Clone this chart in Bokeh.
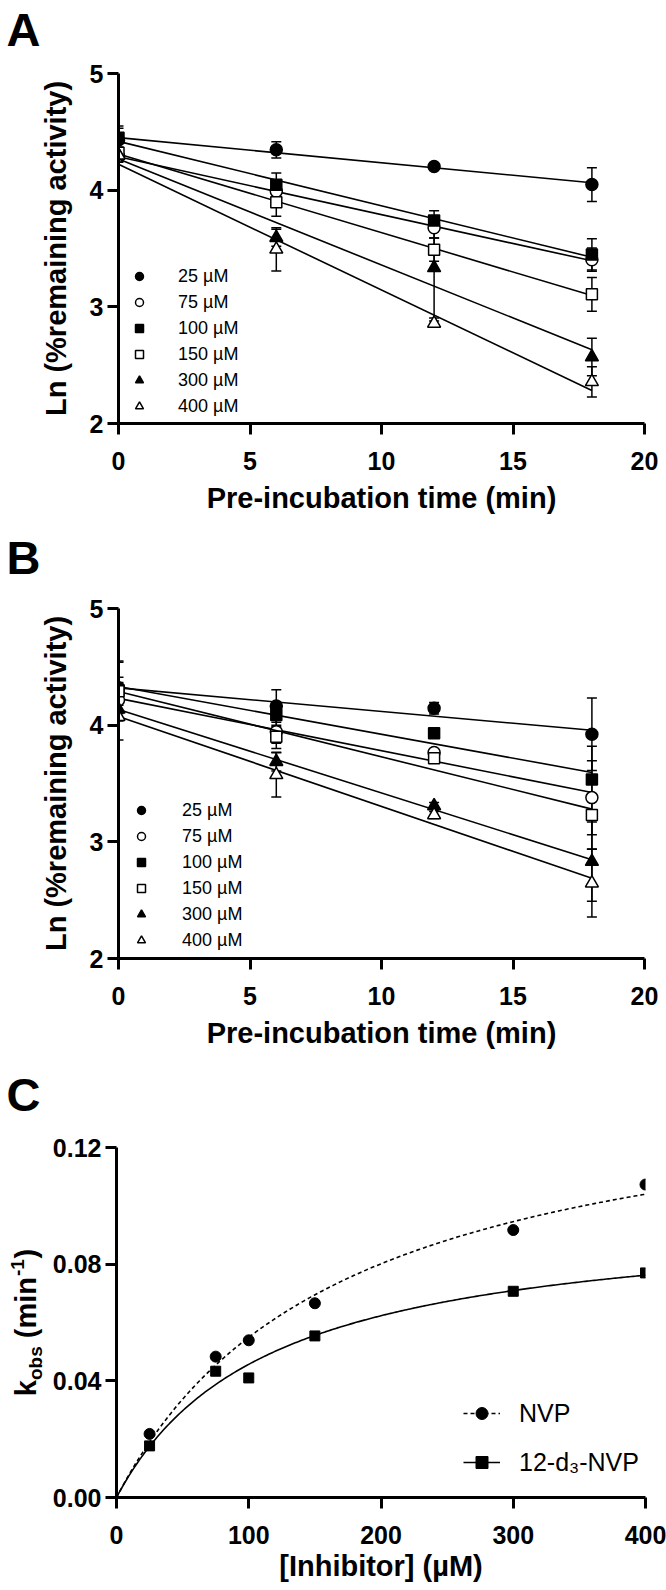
import numpy as np
from bokeh.plotting import figure
from bokeh.layouts import column, row
from bokeh.models import (ColumnDataSource, Whisker, TeeHead, Legend, LegendItem,
                          Label, FixedTicker, NumeralTickFormatter, Range1d)
from bokeh.embed import file_html
from bokeh.resources import INLINE

FONT = "Liberation Sans"

# ------------------------------------------------------------------ data
times = [0, 6, 12, 18]
conc_labels = ["25 µM", "75 µM", "100 µM", "150 µM", "300 µM", "400 µM"]

# Panel A: Ln(% remaining activity), mean and SD
a_25 = [4.43, 4.346, 4.202, 4.048]
a_75 = [4.29, 3.99, 3.677, 3.404]
a_100 = [4.45, 4.047, 3.74, 3.449]
a_150 = [4.32, 3.897, 3.49, 3.107]
a_300 = [4.30, 3.593, 3.335, 2.57]
a_400 = [4.30, 3.493, 2.858, 2.357]
sd_a_25 = [0.10, 0.07, 0.02, 0.145]
sd_a_75 = [0.05, 0.08, 0.087, 0.10]
sd_a_100 = [0.10, 0.10, 0.084, 0.134]
sd_a_150 = [0.05, 0.12, 0.10, 0.145]
sd_a_300 = [0.05, 0.073, 0.43, 0.16]
sd_a_400 = [0.05, 0.185, 0.02, 0.13]

# Panel B
b_25 = [4.32, 4.164, 4.145, 3.922]
b_75 = [4.216, 3.944, 3.765, 3.379]
b_100 = [4.30, 4.087, 3.931, 3.534]
b_150 = [4.29, 3.90, 3.717, 3.231]
b_300 = [4.136, 3.687, 3.308, 2.831]
b_400 = [4.073, 3.574, 3.231, 2.646]
sd_b_25 = [0.22, 0.14, 0.05, 0.31]
sd_b_75 = [0.15, 0.10, 0.03, 0.44]
sd_b_100 = [0.25, 0.10, 0.03, 0.16]
sd_b_150 = [0.12, 0.10, 0.03, 0.17]
sd_b_300 = [0.10, 0.08, 0.03, 0.34]
sd_b_400 = [0.20, 0.19, 0.03, 0.29]

# Panel C: kobs vs inhibitor concentration
inhibitor = [25, 75, 100, 150, 300, 400]
kobs_nvp = [0.0218, 0.0483, 0.0539, 0.0666, 0.0917, 0.1073]
kobs_d3 = [0.0177, 0.0433, 0.0410, 0.0554, 0.0707, 0.0770]
c_labels = ["NVP", "12-d\u2083-NVP"]

x_ticks_time = [0, 5, 10, 15, 20]
y_ticks_ln = [2, 3, 4, 5]
x_ticks_inh = [0, 100, 200, 300, 400]
y_ticks_k = [0.0, 0.04, 0.08, 0.12]

# ------------------------------------------------------------------ style
MARKERS = [("circle", "black"), ("circle", "white"), ("square", "black"),
           ("square", "white"), ("triangle", "black"), ("triangle", "white")]
MSIZE = {"circle": 12, "square": 11, "triangle": 13}
W = 666
LETTER_SIZE = "47px"


def unalign(fig):
    if "frame_align" in fig.properties():
        fig.frame_align = False


def style_axes(p, xticks, yticks):
    p.xaxis.ticker = FixedTicker(ticks=xticks)
    p.yaxis.ticker = FixedTicker(ticks=yticks)
    for ax in (p.xaxis, p.yaxis):
        ax.axis_line_width = 3
        ax.axis_line_color = "black"
        ax.major_tick_line_width = 3
        ax.major_tick_line_color = "black"
        ax.major_tick_out = 11
        ax.major_tick_in = 0
        ax.minor_tick_out = 0
        ax.minor_tick_in = 0
        ax.major_label_text_font = FONT
        ax.major_label_text_font_style = "bold"
        ax.major_label_text_font_size = "25px"
        ax.major_label_text_color = "black"
        ax.axis_label_text_font = FONT
        ax.axis_label_text_font_style = "bold"
        ax.axis_label_text_font_size = "29px"
        ax.axis_label_text_color = "black"
    p.xaxis.major_label_standoff = 17
    p.yaxis.major_label_standoff = 4
    p.xgrid.visible = False
    p.ygrid.visible = False
    p.outline_line_color = None
    unalign(p)


def text_strip(width, height):
    s = figure(width=width, height=height, x_range=Range1d(0, width), y_range=Range1d(0, height),
               x_axis_type=None, y_axis_type=None, output_backend="svg", toolbar_location=None,
               title=None, min_border=0, min_border_left=0, min_border_right=0,
               min_border_top=0, min_border_bottom=0)
    s.title_location = None
    s.outline_line_color = None
    s.xgrid.visible = False
    s.ygrid.visible = False
    unalign(s)
    return s


def letter_header(letter, height, center_from_top):
    h = text_strip(W, height)
    h.add_layout(Label(x=6, y=height - center_from_top, text=letter, text_font=FONT,
                       text_font_style="bold", text_font_size=LETTER_SIZE,
                       text_baseline="middle", text_align="left", text_color="black"))
    return h


def time_panel(means, sds, height, top, bottom, leg_loc, leg_standoff):
    p = figure(width=W, height=height, x_range=Range1d(0, 20), y_range=Range1d(2, 5),
               output_backend="svg", toolbar_location=None,
               min_border_left=118, min_border_right=22,
               min_border_top=top, min_border_bottom=bottom)
    style_axes(p, x_ticks_time, y_ticks_ln)
    p.xaxis.axis_label = "Pre-incubation time (min)"
    p.yaxis.axis_label = "Ln (%remaining activity)"
    p.xaxis.axis_label_standoff = 9
    p.yaxis.axis_label_standoff = 15

    items = []
    for i, (m, sd) in enumerate(zip(means, sds)):
        slope, icpt = np.polyfit(times, m, 1)
        xs = [times[0], times[-1]]
        p.line(xs, [icpt + slope * x for x in xs], line_color="black", line_width=1.6)
        src = ColumnDataSource(dict(x=times, y=m,
                                    upper=list(np.add(m, sd)), lower=list(np.subtract(m, sd))))
        p.add_layout(Whisker(source=src, base="x", upper="upper", lower="lower",
                             line_color="black", line_width=1.5,
                             upper_head=TeeHead(size=10, line_width=1.5, line_color="black"),
                             lower_head=TeeHead(size=10, line_width=1.5, line_color="black")))
        mk, fill = MARKERS[i]
        r = p.scatter("x", "y", source=src, marker=mk, size=MSIZE[mk],
                      fill_color=fill, line_color="black", line_width=1.5)
        items.append(LegendItem(label=conc_labels[i], renderers=[r]))

    leg = Legend(items=items, location=leg_loc, padding=0, margin=0, spacing=0,
                 glyph_width=20, glyph_height=26, label_height=26,
                 label_standoff=leg_standoff, label_text_font=FONT,
                 label_text_font_size="18px", label_text_color="black",
                 border_line_color=None, background_fill_alpha=0)
    p.add_layout(leg)
    return p


# page layout (px from top): header A 0-57, A 57-525, header B 525-590, B 590-1062, C 1062-1588
hdrA = letter_header("A", 57, 28.5)
pA = time_panel([a_25, a_75, a_100, a_150, a_300, a_400],
                [sd_a_25, sd_a_75, sd_a_100, sd_a_150, sd_a_300, sd_a_400],
                height=468, top=16, bottom=102, leg_loc=(11, 4), leg_standoff=29)
hdrB = letter_header("B", 65, 32)
pB = time_panel([b_25, b_75, b_100, b_150, b_300, b_400],
                [sd_b_25, sd_b_75, sd_b_100, sd_b_150, sd_b_300, sd_b_400],
                height=472, top=18, bottom=104, leg_loc=(13, 5), leg_standoff=31)

# ------------------------------------------------------------------ panel C
C_H = 526
STRIP_W = 46
pC = figure(width=W - STRIP_W, height=C_H, x_range=Range1d(0, 400), y_range=Range1d(0, 0.12),
            output_backend="svg", toolbar_location=None,
            min_border_left=70, min_border_right=21, min_border_top=85, min_border_bottom=91)
style_axes(pC, x_ticks_inh, y_ticks_k)
pC.yaxis.formatter = NumeralTickFormatter(format="0.00")
pC.xaxis.axis_label = "[Inhibitor] (µM)"
pC.xaxis.axis_label_standoff = 3


def hyperbolic_fit(x, y):
    x = np.asarray(x, float)
    y = np.asarray(y, float)
    best = None
    for K in np.linspace(1, 1500, 6000):
        f = x / (K + x)
        k = float(np.dot(y, f) / np.dot(f, f))
        sse = float(np.sum((y - k * f) ** 2))
        if best is None or sse < best[0]:
            best = (sse, k, K)
    return best[1], best[2]


xc = np.linspace(0, 400, 300)
renderers = []
for ys, mk, dash in [(kobs_nvp, "circle", "4 3"), (kobs_d3, "square", "solid")]:
    kin, KI = hyperbolic_fit(inhibitor, ys)
    ln = pC.line(xc, kin * xc / (KI + xc), line_color="black", line_width=1.6, line_dash=dash)
    sc = pC.scatter(inhibitor, ys, marker=mk, size=10 if mk == "square" else 11,
                    fill_color="black", line_color="black")
    renderers.append([ln, sc])

legC = Legend(items=[LegendItem(label=c_labels[0], renderers=renderers[0]),
                     LegendItem(label=c_labels[1], renderers=renderers[1])],
              location=(347, 20), padding=0, margin=0, spacing=19,
              glyph_width=37, glyph_height=30, label_height=30, label_standoff=19,
              label_text_font=FONT, label_text_font_size="25px", label_text_color="black",
              border_line_color=None, background_fill_alpha=0)
pC.add_layout(legC)

# left strip with the panel letter and the composite y-axis title
stripC = text_strip(STRIP_W, C_H)
C_TOP_PAGE = 1062


def strip_y(page_y):
    return C_H - (page_y - C_TOP_PAGE)


stripC.add_layout(Label(x=6, y=strip_y(1094), text="C", text_font=FONT, text_font_style="bold",
                        text_font_size=LETTER_SIZE, text_baseline="middle", text_align="left",
                        text_color="black"))

EM = {"k": .556, "o": .611, "b": .611, "s": .556, " ": .278, "(": .333, "m": .889,
      "i": .278, "n": .611, "-": .333, "1": .556, ")": .333}
# (text, font size, baseline x on the page, gap before in em of that size)
parts = [("k", 29, 36, 0), ("obs", 19, 42, 0), ("(min", 29, 36, EM[" "]),
         ("-1", 19, 24, 0.05), (")", 29, 36, 0.02)]


def adv(t, s):
    return sum(EM[ch] for ch in t) * s


total = sum(adv(t, s) + g * s for t, s, _, g in parts)
ypos = 1322 + total / 2
for t, s, base_x, g in parts:
    ypos -= g * s
    stripC.add_layout(Label(x=base_x - 0.35 * s, y=strip_y(ypos), text=t, angle=np.pi / 2,
                            text_font=FONT, text_font_style="bold", text_font_size=f"{s}px",
                            text_baseline="middle", text_align="left",
                            text_color="black"))
    ypos -= adv(t, s)

layout = column(hdrA, pA, hdrB, pB, row(stripC, pC))
open("out.html", "w").write(file_html(layout, INLINE))
